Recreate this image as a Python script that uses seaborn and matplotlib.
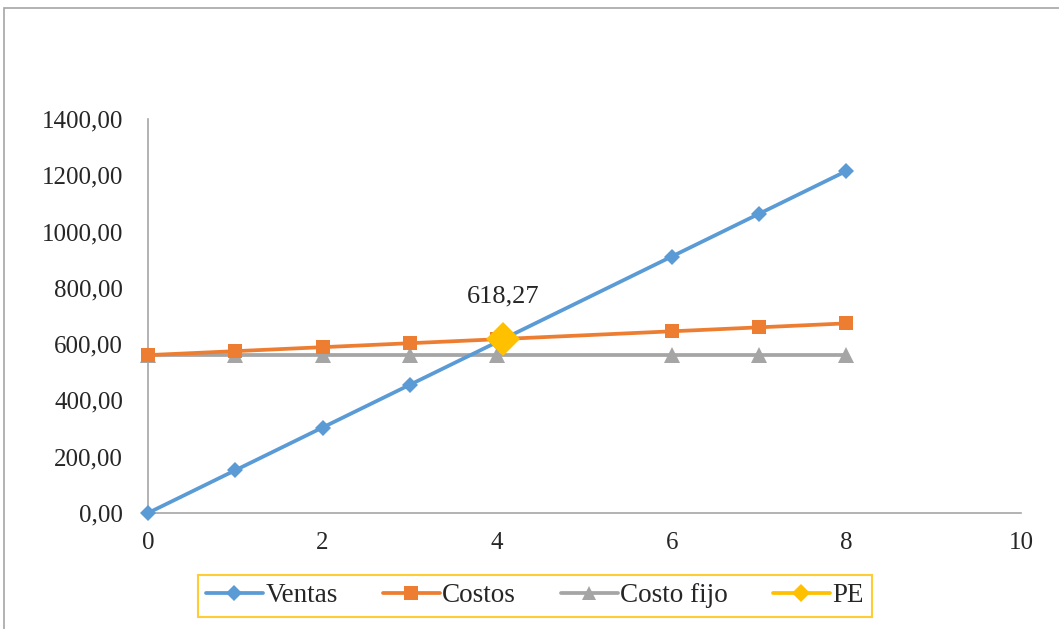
import matplotlib
matplotlib.use("Agg")
import matplotlib.pyplot as plt
import matplotlib.lines as mlines
import seaborn as sns
from matplotlib.patches import Rectangle

sns.set_style("white")
plt.rcParams['font.family'] = ['Liberation Serif', 'DejaVu Serif']

unidades = [0, 1, 2, 3, 4, 6, 7, 8]
ventas = [0, 151.9, 303.8, 455.7, 607.6, 911.4, 1063.3, 1215.2]
costos = [561, 575.1, 589.2, 603.3, 617.4, 645.6, 659.7, 673.8]
costo_fijo = [561, 561, 561, 561, 561, 561, 561, 561]
pe_x = [4.07]
pe_y = [618.27]
pe_label = "618,27"
y_ticks = [0, 200, 400, 600, 800, 1000, 1200, 1400]
x_ticks = [0, 2, 4, 6, 8, 10]

fig = plt.figure(figsize=(10.59, 6.29), dpi=100)
ax = fig.add_axes([148/1059, 1 - 513/629, 873/1059, 394/629])

c_v, c_c, c_f, c_pe = "#5B9BD5", "#ED7D31", "#A5A5A5", "#FFC000"
lw = 2.7
sns.lineplot(x=unidades, y=costo_fijo, ax=ax, color=c_f, lw=lw, marker="^",
             markersize=11, markeredgewidth=0, label="Costo fijo", zorder=2, clip_on=False)
sns.lineplot(x=unidades, y=costos, ax=ax, color=c_c, lw=lw, marker="s",
             markersize=10.5, markeredgewidth=0, label="Costos", zorder=3, clip_on=False)
sns.lineplot(x=unidades, y=ventas, ax=ax, color=c_v, lw=lw, marker="D",
             markersize=8, markeredgewidth=0, label="Ventas", zorder=4, clip_on=False)
sns.lineplot(x=pe_x, y=pe_y, ax=ax, color=c_pe, lw=lw, marker="D",
             markersize=17, markeredgewidth=0, label="PE", zorder=5, clip_on=False)
ax.annotate(pe_label, (pe_x[0], pe_y[0]), xytext=(0, 23), textcoords="offset points",
            ha="center", va="bottom", fontsize=19)

ax.set_xlim(0, 10)
ax.set_ylim(0, 1400)
ax.set_xticks(x_ticks)
ax.set_yticks(y_ticks)
ax.set_xticklabels([str(t) for t in x_ticks])
ax.set_yticklabels([f"{t},00" for t in y_ticks])
ax.tick_params(axis="both", labelsize=18, length=0)
ax.tick_params(axis="y", pad=18)
ax.tick_params(axis="x", pad=14)
for s in ["top", "right"]:
    ax.spines[s].set_visible(False)
for s in ["left", "bottom"]:
    ax.spines[s].set_color("#A6A6A6")
    ax.spines[s].set_linewidth(1.2)
    ax.spines[s].set_zorder(1)
ax.set_xlabel("")
ax.set_ylabel("")
ax.get_legend().remove()

order = ["Ventas", "Costos", "Costo fijo", "PE"]
leg_handles = [
    mlines.Line2D([], [], color=c_v, lw=lw, marker="D", markersize=8, markeredgewidth=0),
    mlines.Line2D([], [], color=c_c, lw=lw, marker="s", markersize=10, markeredgewidth=0),
    mlines.Line2D([], [], color=c_f, lw=lw, marker="^", markersize=10, markeredgewidth=0),
    mlines.Line2D([], [], color=c_pe, lw=lw, marker="D", markersize=9, markeredgewidth=0),
]
leg = fig.legend(leg_handles, order, loc="center", bbox_to_anchor=(535/1059, 1 - 596/629),
                 ncol=4, fontsize=19.5, frameon=True, fancybox=False, handlelength=2.1,
                 handletextpad=0.1, columnspacing=1.65, borderpad=0.3, borderaxespad=0)
leg.get_frame().set_edgecolor(c_pe)
leg.get_frame().set_linewidth(1.5)

fig.add_artist(Rectangle((4/1059, -0.1), 1.2, 1 - 8/629 + 0.1, transform=fig.transFigure,
                         fill=False, edgecolor="#A6A6A6", lw=1.2))

fig.savefig("out.png", dpi=100)
